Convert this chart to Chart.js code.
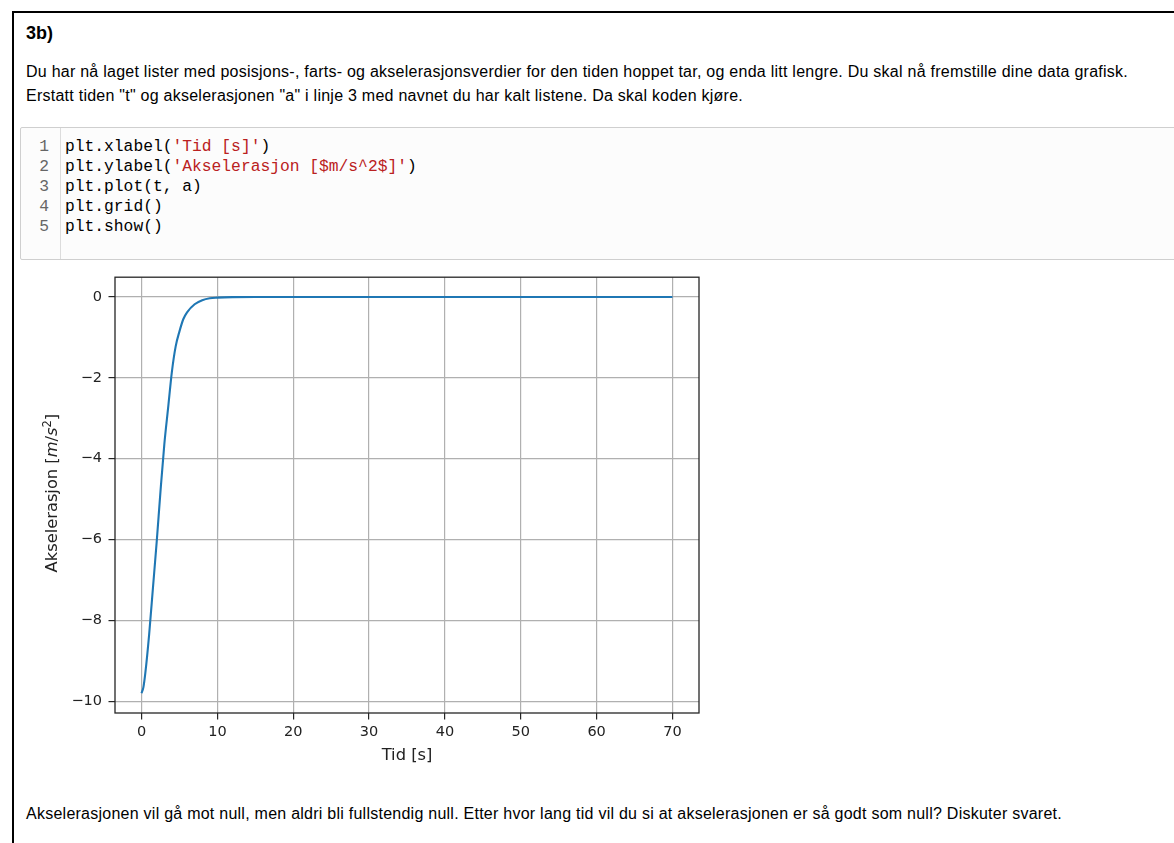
<!DOCTYPE html>
<html>
<head>
<meta charset="utf-8">
<title>3b) Akselerasjon</title>
<script src="https://cdn.jsdelivr.net/npm/chart.js@4.4.0/dist/chart.umd.min.js"></script>
<style>
  body { margin: 0; background: #fff; color: #000; font-family: "Liberation Sans", Arial, Helvetica, sans-serif; }
  .frame { position: absolute; left: 12px; top: 11px; width: 1200px; height: 900px; border-left: 2px solid #000; border-top: 2px solid #000; }
  h3 { position: absolute; left: 26px; top: 23px; margin: 0; font-size: 18px; line-height: 20px; font-weight: bold; }
  .txt { position: absolute; left: 26px; margin: 0; font-size: 16px; letter-spacing: 0.25px; line-height: 24px; white-space: nowrap; }
  .code { position: absolute; left: 20px; top: 127px; width: 1170px; height: 131px; border: 1px solid #cfcfcf; border-radius: 2px; background: #fcfcfc; }
  .gutter { position: absolute; left: 0; top: 0; width: 39px; height: 100%; border-right: 1px solid #dcdcdc; }
  .lines { position: absolute; top: 9px; margin: 0; font-family: "Liberation Mono", "Courier New", monospace; font-size: 16.3px; line-height: 20px; white-space: pre; }
  .nums { left: 0; width: 28px; text-align: right; color: #666; }
  .src { left: 44px; color: #000; }
  .s { color: #ba2121; }
  #wrap { position: absolute; left: 20px; top: 262px; width: 689px; height: 513px; }
</style>
</head>
<body>
<div class="frame"></div>
<h3>3b)</h3>
<p class="txt" style="top:60px">Du har nå laget lister med posisjons-, farts- og akselerasjonsverdier for den tiden hoppet tar, og enda litt lengre. Du skal nå fremstille dine data grafisk.</p>
<p class="txt" style="top:84px">Erstatt tiden "t" og akselerasjonen "a" i linje 3 med navnet du har kalt listene. Da skal koden kjøre.</p>

<div class="code">
  <div class="gutter"></div>
  <pre class="lines nums">1
2
3
4
5</pre>
  <pre class="lines src">plt.xlabel(<span class="s">'Tid [s]'</span>)
plt.ylabel(<span class="s">'Akselerasjon [$m/s^2$]'</span>)
plt.plot(t, a)
plt.grid()
plt.show()</pre>
</div>

<div id="wrap"><canvas id="aks" width="689" height="513"></canvas></div>

<p class="txt" style="top:802px">Akselerasjonen vil gå mot null, men aldri bli fullstendig null. Etter hvor lang tid vil du si at akselerasjonen er så godt som null? Diskuter svaret.</p>

<script>
// tid [s] og akselerasjon [m/s^2]
const tid = [0, 0.25, 0.5, 1, 1.5, 2, 2.5, 3, 3.5, 4, 4.5, 5, 5.5, 6, 7, 8, 9, 10, 12, 15, 20, 30, 40, 50, 60, 70];
const aks = [-9.8, -9.65, -9.3, -8.35, -7.2, -6.05, -4.8, -3.65, -2.75, -1.85, -1.22, -0.85, -0.55, -0.38, -0.18, -0.08, -0.03, -0.015, -0.003, 0, 0, 0, 0, 0, 0, 0];

const xTicks = [0, 10, 20, 30, 40, 50, 60, 70];
const yTicks = [-10, -8, -6, -4, -2, 0];

const tickFont = { family: 'DejaVu Sans', size: 14.5 };
const labelSize = 16.3;
const textColor = '#222';

const minus = v => String(v).replace('-', '\u2212');

// ramme rundt plottet (alle fire sider)
const frame = {
  id: 'frame',
  afterDatasetsDraw(chart) {
    const { ctx, chartArea: a } = chart;
    ctx.save();
    ctx.strokeStyle = '#262626';
    ctx.lineWidth = 1.3;
    ctx.strokeRect(a.left, a.top, a.right - a.left, a.bottom - a.top);
    ctx.restore();
  }
};

// y-aksetittel med kursiv enhet og eksponent
const yTitle = {
  id: 'yTitle',
  afterDraw(chart) {
    const { ctx, chartArea: a } = chart;
    const parts = [
      ['Akselerasjon [', '', labelSize, 0],
      ['m', 'italic ', labelSize, 0],
      ['/', '', labelSize, 0],
      ['s', 'italic ', labelSize, 0],
      ['2', '', 11.5, -6.5],
      [']', '', labelSize, 0]
    ];
    ctx.save();
    let total = 0;
    parts.forEach(p => {
      ctx.font = p[1] + p[2] + 'px "DejaVu Sans"';
      p.push(ctx.measureText(p[0]).width);
      total += p[4];
    });
    ctx.translate(37, (a.top + a.bottom) / 2 - 2);
    ctx.rotate(-Math.PI / 2);
    ctx.fillStyle = textColor;
    ctx.textBaseline = 'alphabetic';
    let x = -total / 2;
    parts.forEach(p => {
      ctx.font = p[1] + p[2] + 'px "DejaVu Sans"';
      ctx.fillText(p[0], x, p[3]);
      x += p[4];
    });
    ctx.restore();
  }
};

new Chart(document.getElementById('aks'), {
  type: 'line',
  data: {
    datasets: [{
      data: tid.map((t, i) => ({ x: t, y: aks[i] })),
      borderColor: '#1f77b4',
      borderWidth: 2.1,
      pointRadius: 0,
      cubicInterpolationMode: 'monotone',
      fill: false
    }]
  },
  options: {
    responsive: false,
    animation: false,
    devicePixelRatio: 1,
    layout: { padding: { top: 15, right: 10, left: 0, bottom: 0 } },
    plugins: { legend: { display: false }, tooltip: { enabled: false } },
    scales: {
      x: {
        type: 'linear',
        min: -3.5,
        max: 73.5,
        afterBuildTicks: s => { s.ticks = xTicks.map(v => ({ value: v })); },
        afterFit: s => { s.height = 62; },
        border: { display: false },
        grid: { color: '#b0b0b0', lineWidth: 1.2, tickColor: '#262626', tickWidth: 1.2, tickLength: 6.5 },
        ticks: { font: tickFont, color: textColor, padding: 4, maxRotation: 0, callback: minus },
        title: { display: true, text: 'Tid [s]', color: textColor, font: { family: 'DejaVu Sans', size: labelSize }, padding: { top: 0, bottom: 9 } }
      },
      y: {
        min: -10.29,
        max: 0.49,
        afterBuildTicks: s => { s.ticks = yTicks.map(v => ({ value: v })); },
        afterFit: s => { s.width = 95; },
        border: { display: false },
        grid: { color: '#b0b0b0', lineWidth: 1.2, tickColor: '#262626', tickWidth: 1.2, tickLength: 6.5 },
        ticks: { font: tickFont, color: textColor, padding: 6.5, callback: minus }
      }
    }
  },
  plugins: [frame, yTitle]
});
</script>
</body>
</html>
